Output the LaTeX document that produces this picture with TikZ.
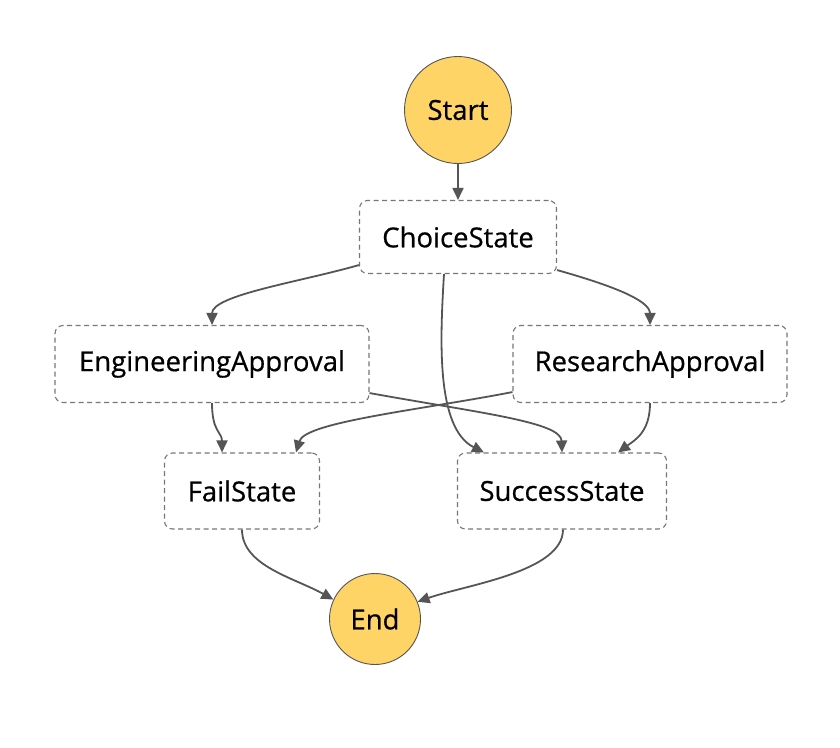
\documentclass[tikz,border=0pt]{standalone}
\usepackage{fontspec}
\setmainfont{Open Sans}
\newfontfamily\statefont{Open Sans}[FakeBold=0.6]
\usepackage{tikz}
\usetikzlibrary{shapes,calc,arrows.meta}
\definecolor{edgegray}{HTML}{555555}
\definecolor{boxgray}{HTML}{777777}
\definecolor{termfill}{HTML}{FFD466}
\tikzset{
  statebox/.style={draw=boxgray,line width=1.1pt,dash pattern=on 5pt off 3.5pt,
    rounded corners=8pt,fill=white,inner sep=0pt,font=\statefont\fontsize{27.5}{32}\selectfont},
  terminal/.style={circle,draw=edgegray,line width=0.9pt,fill=termfill,inner sep=0pt,
    font=\statefont\fontsize{27.5}{32}\selectfont},
  flow/.style={draw=edgegray,line width=1.8pt,-{Triangle[length=12pt,width=11pt]}}
}
\begin{document}
\begin{tikzpicture}[x=1pt,y=-1pt]
            \useasboundingbox (0,0) rectangle (840,747);
            % Coordinates
            \coordinate (S) at (458,110);
            \coordinate (C) at (458,237);
            \coordinate (EA) at (212,364);
            \coordinate (RA) at (650,364);
            \coordinate (FS) at (242,491);
            \coordinate (SS) at (562,491);
            \coordinate (E) at (375,619);
            % States
            \node[terminal,minimum size=107pt] (start) at (S) {Start};
            \node[statebox,minimum width=197pt,minimum height=73pt] (choice) at (C) {ChoiceState};
            \node[statebox,minimum width=314pt,minimum height=77pt] (eng) at (EA) {EngineeringApproval};
            \node[statebox,minimum width=274pt,minimum height=77pt] (res) at (RA) {ResearchApproval};
            \node[statebox,minimum width=155pt,minimum height=76pt] (fail) at (FS) {FailState};
            \node[statebox,minimum width=209pt,minimum height=76pt] (succ) at (SS) {SuccessState};
            \node[terminal,minimum size=91pt] (end) at (E) {End};
            % Transitions
            \draw[flow] (start) -- (choice);
            \draw[flow] ($(choice.south west)+(0,-9)$) .. controls (300,282) and (212,295) .. (eng.north);
            \draw[flow] ($(choice.south east)+(0,-4)$) .. controls (610,285) and (650,300) .. (res.north);
            \draw[flow] ($(choice.south)+(-14,0)$) .. controls (440,340) and (436,428) .. ($(succ.north west)+(27,0)$);
            \draw[flow] ($(eng.south east)+(0,-10)$) .. controls (480,413) and (561,422) .. (succ.north);
            \draw[flow] ($(res.south west)+(0,-11)$) .. controls (420,410) and (305,422) .. ($(fail.north)+(54,0)$);
            \draw[flow] (eng.south) .. controls (212,432) and (222,432) .. ($(fail.north)+(-20,0)$);
            \draw[flow] (res.south) .. controls (650,432) and (635,440) .. ($(succ.north)+(56,0)$);
            \draw[flow] (fail.south) .. controls (242,566) and (295,578) .. (end.155);
            \draw[flow] ($(succ.south)+(1,0)$) .. controls (563,572) and (465,585) .. (end.22);
\end{tikzpicture}
\end{document}
